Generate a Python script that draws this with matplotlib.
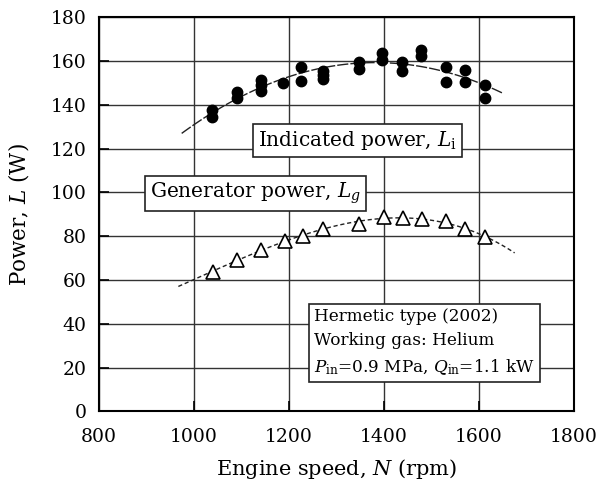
import numpy as np
import matplotlib.pyplot as plt

# indicated power, filled circles (several runs per speed)
ind_rpm = [1037, 1037, 1091, 1091, 1140, 1140, 1140, 1188, 1225, 1225,
           1271, 1271, 1271, 1347, 1347, 1395, 1395, 1437, 1437, 1478, 1478,
           1531, 1531, 1570, 1570, 1613, 1613]
ind_pow = [137.4, 134.5, 145.8, 143.2, 151.4, 148.8, 146.1, 149.8, 157.1, 150.8,
           155.6, 153.4, 151.5, 159.4, 156.4, 163.5, 160.5, 159.4, 155.5, 165.0, 162.0,
           157.4, 150.3, 155.9, 150.3, 149.1, 143.0]

# generator power, open triangles
gen_rpm = [1041, 1090, 1140, 1192, 1229, 1272, 1347, 1399, 1441, 1479, 1531, 1570, 1613]
gen_pow = [63.8, 69.1, 73.8, 78.0, 80.3, 83.4, 85.5, 88.6, 88.2, 87.8, 87.0, 83.5, 79.4]

plt.rcParams['font.family'] = 'DejaVu Serif'
plt.rcParams['mathtext.fontset'] = 'dejavuserif'

fig = plt.figure(figsize=(6.02, 4.84), dpi=100)
ax = fig.add_axes([0.1645, 0.1498, 0.789, 0.815])

# trend lines
p1 = np.polyfit(ind_rpm, ind_pow, 2)
x1 = np.linspace(974, 1650, 100)
ax.plot(x1, np.polyval(p1, x1), color='#222222', lw=1.0, dashes=(8, 1.5), zorder=3)
p2 = np.polyfit(gen_rpm, gen_pow, 3)
x2 = np.linspace(967, 1675, 100)
ax.plot(x2, np.polyval(p2, x2), color='#222222', lw=1.0, dashes=(3, 2), zorder=3)

ax.plot(ind_rpm, ind_pow, 'o', color='black', ms=7.5, zorder=4)
ax.plot(gen_rpm, gen_pow, '^', mfc='white', mec='black', mew=1.2, ms=9.5, zorder=4)

ax.set_xlim(800, 1800)
ax.set_ylim(0, 180)
ax.set_xticks(np.arange(800, 1801, 200))
ax.set_yticks(np.arange(0, 181, 20))
ax.grid(True, color='#333333', lw=1.0)
ax.set_axisbelow(True)
ax.tick_params(direction='in', length=7, width=1.2, labelsize=13.5)
ax.tick_params(axis='x', pad=12)
ax.tick_params(axis='y', pad=9)
for s in ax.spines.values():
    s.set_linewidth(1.5)

ax.set_xlabel('Engine speed, $N$ (rpm)', fontsize=15, labelpad=8)
ax.set_ylabel('Power, $L$ (W)', fontsize=15.5, labelpad=14)

box = dict(boxstyle='square,pad=0.25', fc='white', ec='#222222', lw=1.2)
ax.text(1345, 123.5, 'Indicated power, $L_{\\rm i}$', fontsize=14.5,
        ha='center', va='center', bbox=box, zorder=5)
ax.text(1130, 99.5, 'Generator power, $L_g$', fontsize=14.5,
        ha='center', va='center', bbox=box, zorder=5)
ax.text(1252, 31.5, 'Hermetic type (2002)\nWorking gas: Helium\n'
        '$P_{\\rm in}$=0.9 MPa, $Q_{\\rm in}$=1.1 kW',
        fontsize=12.2, ha='left', va='center', linespacing=1.55,
        bbox=dict(boxstyle='square,pad=0.3', fc='white', ec='#222222', lw=1.2), zorder=5)

fig.savefig('out.png', dpi=100)
